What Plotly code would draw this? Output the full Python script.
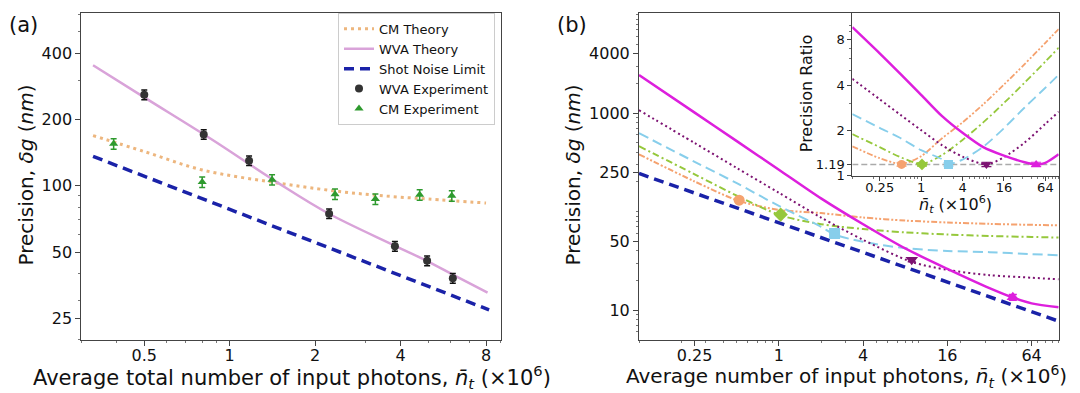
import plotly.graph_objects as go
import math

# ---------------- Panel (a) data ----------------
snl_a_n = [0.33, 8.2]
snl_a = [136, 27.3]
cm_th_n = [0.33, 0.5, 0.8, 1.4, 2.3, 3.3, 5, 8]
cm_th = [169, 143, 118, 104, 95, 90.5, 87, 83.5]
wva_th_n = [0.33, 0.5, 0.86, 1.48, 2.22, 3.81, 4.96, 6.11, 8.1]
wva_th = [353, 252, 163, 103, 75, 53.5, 45.5, 39.5, 32.7]
wva_exp_n = [0.5, 0.81, 1.17, 2.24, 3.82, 4.96, 6.11]
wva_exp = [259, 171, 130, 74.7, 53.1, 45.6, 38.0]
wva_err = [13, 8.5, 6.5, 3.7, 2.7, 2.3, 1.9]
cm_exp_n = [0.39, 0.80, 1.41, 2.35, 3.26, 4.67, 6.06]
cm_exp = [155, 104, 106.5, 91.6, 87.0, 91, 90]
cm_err = [8.5, 5.7, 5.8, 5.0, 4.8, 5.0, 5.0]

# ---------------- Panel (b) data ----------------
snl_b_n = [0.1, 100]
snl_b = [243.5, 7.7]
or_n = [0.1, 0.25, 0.52, 1, 2, 4, 8, 16, 32, 64, 100]
or_v = [381, 202, 128, 104, 96.5, 87, 81, 77.5, 75, 73.3, 72.5]
or_r = [1.57, 1.31, 1.20, 1.35, 1.77, 2.26, 2.98, 4.03, 5.51, 7.62, 9.42]
gr_n = [0.1, 0.25, 0.5, 1.03, 2, 4, 8, 16, 32, 64, 100]
gr_v = [461, 239, 145, 91.5, 74.5, 66.5, 61.5, 58.5, 56.5, 55.2, 54.5]
gr_r = [1.89, 1.55, 1.33, 1.20, 1.37, 1.73, 2.26, 3.04, 4.15, 5.73, 7.08]
lb_n = [0.1, 0.25, 0.5, 1, 2, 2.5, 4, 8, 16, 32, 64, 100]
lb_v = [625, 320, 194, 114, 70, 58.5, 49.3, 42.5, 39.8, 38.7, 37, 36]
lb_r = [2.57, 2.08, 1.78, 1.48, 1.29, 1.20, 1.28, 1.56, 2.07, 2.84, 3.84, 4.68]
pu_n = [0.1, 0.25, 0.5, 1, 2, 4, 8.9, 16, 32, 64, 100]
pu_v = [1070, 496, 277, 155, 87, 51.6, 30.8, 25.6, 22.6, 21.3, 20.5]
pu_r = [4.4, 3.22, 2.54, 2.01, 1.60, 1.34, 1.19, 1.33, 1.66, 2.21, 2.66]
mg_n = [0.1, 0.25, 0.5, 1, 2, 4, 8, 16, 32, 47, 64, 100]
mg_v = [2430, 1010, 519, 266, 136, 74.3, 42.2, 26.2, 16.7, 13.4, 11.7, 10.7]
mg_r = [9.7, 6.5, 4.75, 3.45, 2.5, 1.93, 1.55, 1.36, 1.23, 1.19, 1.22, 1.39]
opt_n = [0.52, 1.03, 2.5, 8.9, 47]
opt_v = [130.6, 93.3, 60, 32.5, 13.5]
opt_err = [4, 3, 2, 1.5, 0.9]
opt_r = [1.19, 1.19, 1.19, 1.19, 1.19]
opt_r_err = [0.03, 0.03, 0.03, 0.04, 0.04]
ratio_ref = 1.19

C_OR = "#F5A26F"
C_GR = "#96C83C"
C_LB = "#87CEEB"
C_PU = "#7D1272"
C_MG = "#DD1FDD"
C_SNL = "#1A22A8"
opt_colors = [C_OR, C_GR, C_LB, C_PU, C_MG]
opt_symbols = ["circle", "diamond", "square", "triangle-down", "triangle-up"]

FONT = "DejaVu Sans"
fig = go.Figure()

# Panel (a)
fig.add_trace(go.Scatter(x=cm_th_n, y=cm_th, mode="lines", name="CM Theory",
                         line=dict(color="#EDB67E", width=3, dash="3px,4px", shape="spline"),
                         xaxis="x", yaxis="y"))
fig.add_trace(go.Scatter(x=wva_th_n, y=wva_th, mode="lines", name="WVA Theory",
                         line=dict(color="#D9A3D9", width=2.5, shape="spline"),
                         xaxis="x", yaxis="y"))
fig.add_trace(go.Scatter(x=snl_a_n, y=snl_a, mode="lines", name="Shot Noise Limit",
                         line=dict(color=C_SNL, width=3.5, dash="10px,6px"),
                         xaxis="x", yaxis="y"))
fig.add_trace(go.Scatter(x=wva_exp_n, y=wva_exp, mode="markers", name="WVA Experiment",
                         marker=dict(color="#333333", size=8, symbol="circle"),
                         error_y=dict(type="data", array=wva_err, color="#111111", thickness=1.5, width=3),
                         xaxis="x", yaxis="y"))
fig.add_trace(go.Scatter(x=cm_exp_n, y=cm_exp, mode="markers", name="CM Experiment",
                         marker=dict(color="#2E9A2E", size=8, symbol="triangle-up"),
                         error_y=dict(type="data", array=cm_err, color="#2E9A2E", thickness=1.5, width=3),
                         xaxis="x", yaxis="y"))

# Panel (b) main
main_specs = [
    (or_n, or_v, C_OR, "6px,2px,2px,2px,2px,2px", 2),
    (gr_n, gr_v, C_GR, "7px,3px,2px,3px", 2),
    (lb_n, lb_v, C_LB, "10px,5px", 2),
    (pu_n, pu_v, C_PU, "2px,3px", 2),
    (mg_n, mg_v, C_MG, "solid", 2.5),
]
for xs, ys, col, dash, w in main_specs:
    fig.add_trace(go.Scatter(x=xs, y=ys, mode="lines", showlegend=False,
                             line=dict(color=col, width=w, dash=dash, shape="spline", smoothing=0.8),
                             xaxis="x2", yaxis="y2"))
fig.add_trace(go.Scatter(x=snl_b_n, y=snl_b, mode="lines", showlegend=False,
                         line=dict(color=C_SNL, width=3.5, dash="10px,6px"),
                         xaxis="x2", yaxis="y2"))
for i in range(len(opt_n)):
    fig.add_trace(go.Scatter(x=[opt_n[i]], y=[opt_v[i]], mode="markers", showlegend=False,
                             marker=dict(color=opt_colors[i], size=11, symbol=opt_symbols[i]),
                             error_y=dict(type="data", array=[opt_err[i]], color=opt_colors[i], thickness=1.5, width=4),
                             xaxis="x2", yaxis="y2"))

# Inset
fig.add_trace(go.Scatter(x=[0.1, 100], y=[ratio_ref, ratio_ref], mode="lines", showlegend=False,
                         line=dict(color="#AAAAAA", width=1.5, dash="6px,3px"),
                         xaxis="x3", yaxis="y3"))
inset_specs = [
    (or_n, or_r, C_OR, "6px,2px,2px,2px,2px,2px", 1.8),
    (gr_n, gr_r, C_GR, "7px,3px,2px,3px", 1.8),
    (lb_n, lb_r, C_LB, "10px,5px", 1.8),
    (pu_n, pu_r, C_PU, "2px,3px", 2),
    (mg_n, mg_r, C_MG, "solid", 2.5),
]
for xs, ys, col, dash, w in inset_specs:
    fig.add_trace(go.Scatter(x=xs, y=ys, mode="lines", showlegend=False,
                             line=dict(color=col, width=w, dash=dash, shape="spline", smoothing=0.8),
                             xaxis="x3", yaxis="y3"))
for i in range(len(opt_n)):
    fig.add_trace(go.Scatter(x=[opt_n[i]], y=[opt_r[i]], mode="markers", showlegend=False,
                             marker=dict(color=opt_colors[i], size=9, symbol=opt_symbols[i]),
                             error_y=dict(type="data", array=[opt_r_err[i]], color=opt_colors[i], thickness=1.2, width=5),
                             xaxis="x3", yaxis="y3"))

W, H = 1080, 393
def px(x):
    return x / W
def py(y):
    return 1 - y / H

axis_common = dict(type="log", showgrid=False, zeroline=False, showline=True, mirror=True,
                   linecolor="#444444", linewidth=1, ticks="outside", ticklen=5, tickwidth=1,
                   tickcolor="#444444", tickfont=dict(family=FONT, size=16, color="#111111"),
                   minor=dict(ticks="outside", ticklen=2.5, tickcolor="#777777", dtick="D1", showgrid=False))

xa = dict(axis_common, domain=[px(73.3), px(493.1)], range=[math.log10(0.30), math.log10(9.04)],
          tickvals=[0.5, 1, 2, 4, 8], ticktext=["0.5", "1", "2", "4", "8"], anchor="y",
          ticklabelstandoff=-4)
ya = dict(axis_common, domain=[py(338.5), py(5)], range=[math.log10(20), math.log10(610)],
          tickvals=[25, 50, 100, 200, 400], ticktext=["25", "50", "100", "200", "400"], anchor="x")
xb = dict(axis_common, domain=[px(631), px(1050.7)], range=[-1, 2],
          tickvals=[0.25, 1, 4, 16, 64], ticktext=["0.25", "1", "4", "16", "64"], anchor="y2",
          ticklabelstandoff=-4)
yb = dict(axis_common, domain=[py(338.5), py(5)], range=[0.70, 4.017],
          tickvals=[10, 50, 250, 1000, 4000], ticktext=["10", "50", "250", "1000", "4000"], anchor="x2")
inset_font = dict(family=FONT, size=13, color="#111111")
xc = dict(axis_common, domain=[px(844.3), px(1050.7)], range=[-1, 2],
          tickvals=[0.25, 1, 4, 16, 64], ticktext=["0.25", "1", "4", "16", "64"], anchor="y3",
          tickfont=inset_font, ticklen=4, ticklabelstandoff=-4)
yc = dict(axis_common, domain=[py(171.3), py(5)], range=[0, math.log10(12.05)],
          tickvals=[1, 1.19, 2, 4, 8], ticktext=["1", "1.19", "2", "4", "8"], anchor="x3",
          tickfont=inset_font, ticklen=4)

def ann(text, x, y, size, angle=0):
    return dict(text=text, x=px(x), y=py(y), xref="paper", yref="paper", showarrow=False,
                xanchor="center", yanchor="middle", textangle=angle,
                font=dict(family=FONT, size=size, color="#111111"))

annotations = [
    ann("(a)", 15, 17, 21),
    ann("(b)", 564, 17, 21),
    ann("Precision, <i>δg</i> (<i>nm</i>)", 18, 171, 20, -90),
    ann("Precision, <i>δg</i> (<i>nm</i>)", 565, 171, 20, -90),
    ann("Average total number of input photons, <i>n̄</i><sub><i>t</i></sub> (×10<sup>6</sup>)", 284, 377, 21),
    ann("Average number of input photons, <i>n̄</i><sub><i>t</i></sub> (×10<sup>6</sup>)", 838, 376, 20),
    ann("Precision Ratio", 798, 87, 16, -90),
    ann("<i>n̄</i><sub><i>t</i></sub> (×10<sup>6</sup>)", 947, 201, 16),
]

fig.update_layout(
    width=W, height=H, margin=dict(l=0, r=0, t=0, b=0),
    paper_bgcolor="white", plot_bgcolor="white",
    font=dict(family=FONT, color="#111111"),
    xaxis=xa, yaxis=ya, xaxis2=xb, yaxis2=yb, xaxis3=xc, yaxis3=yc,
    annotations=annotations,
    showlegend=True,
    legend=dict(x=px(330), y=py(5), xanchor="left", yanchor="top",
                bgcolor="rgba(255,255,255,0.9)", bordercolor="#CCCCCC", borderwidth=1,
                font=dict(family=FONT, size=13, color="#111111"), tracegroupgap=0),
)

fig.write_html("out.html")
